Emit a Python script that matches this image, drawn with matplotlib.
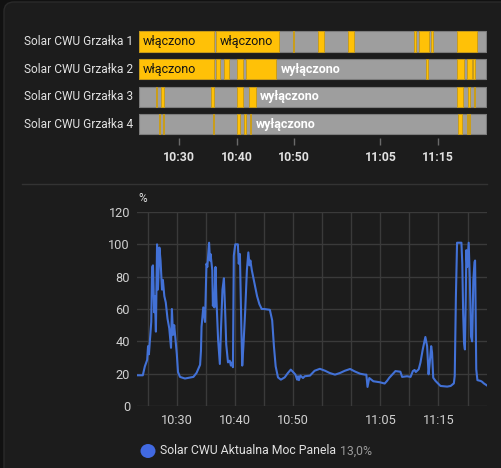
import matplotlib
matplotlib.use("Agg")
import matplotlib.pyplot as plt
from matplotlib.patches import FancyBboxPatch, Circle
from matplotlib.ticker import FixedLocator, FuncFormatter

plt.rcParams['font.family'] = ['Roboto', 'DejaVu Sans']

W, H = 502, 468

# time in minutes after 10:00
t_start = 23.05
t_end = 83.34

row_names = ["Solar CWU Grzałka 1", "Solar CWU Grzałka 2",
             "Solar CWU Grzałka 3", "Solar CWU Grzałka 4"]

# "włączono" (on) intervals per row, (start, end) in minutes after 10:00
on_1 = [(23.05, 36.13), (36.4, 47.37), (49.8, 50.0), (54.15, 55.25),
        (59.3, 60.45), (70.9, 71.2), (71.75, 73.5), (73.8, 74.2),
        (78.25, 81.7)]
on_2 = [(23.05, 36.13), (36.4, 37.2), (37.9, 38.7), (40.0, 41.2),
        (41.65, 46.9), (72.9, 73.2), (78.25, 79.55), (80.0, 80.95),
        (81.1, 81.5)]
on_3 = [(26.0, 26.2), (26.9, 27.45), (35.55, 36.1), (40.0, 41.2),
        (42.2, 43.4), (78.25, 79.4), (80.15, 80.55), (81.25, 81.5)]
on_4 = [(26.6, 26.75), (27.3, 27.45), (35.85, 36.1), (40.0, 40.6),
        (41.3, 41.6), (42.35, 42.55), (78.4, 79.1), (80.0, 80.15),
        (80.4, 80.55)]
on_rows = [on_1, on_2, on_3, on_4]

# state labels: (row, segment start, text, is_on)
state_labels = [
    (0, on_1[0][0], "włączono", True),
    (0, on_1[1][0], "włączono", True),
    (1, on_2[0][0], "włączono", True),
    (1, on_2[4][1], "wyłączono", False),
    (2, on_3[4][1], "wyłączono", False),
    (3, on_4[5][1], "wyłączono", False),
]

# Solar CWU Aktualna Moc Panela, %
pv_t = [23.2, 24.15, 24.5, 24.9, 25.05, 25.2, 25.6, 25.75, 25.9, 26.1, 26.2, 26.3,
        26.4, 26.6, 26.75, 27.0, 27.2, 27.45, 27.6, 27.85, 28.1, 28.4, 28.7,
        29.0, 29.15, 29.35, 29.55, 29.7, 30.0, 30.2, 30.55, 31.4, 32.85, 33.4,
        34.0, 34.15, 34.25, 34.55, 34.85, 35.1, 35.25, 35.55, 35.7, 35.8, 36.1,
        36.2, 36.35, 36.45, 36.65, 36.8, 37.1, 37.4, 37.6, 37.85, 38.1, 38.3,
        38.5, 38.8, 39.1, 39.3, 39.5, 39.65, 39.8, 40.05, 40.5, 40.65, 40.85,
        41.1, 41.25, 41.45, 41.6, 41.75, 42.05, 42.3, 42.5, 42.65, 42.9, 43.35,
        43.8, 44.2, 44.6, 45.0, 46.0, 46.4, 46.7, 47.0, 47.4, 47.9, 48.55,
        49.1, 49.6, 50.0, 50.4, 50.7, 50.85, 51.0, 51.25, 51.7, 52.0, 52.9,
        53.7, 54.6, 55.5, 56.3, 57.2, 58.05, 58.9, 59.8, 60.6, 61.5, 62.35,
        62.6, 62.8, 63.1, 63.8, 64.9, 65.75, 66.15, 66.55, 67.1, 67.6, 68.45,
        68.75, 69.6, 70.2, 70.6, 70.9, 71.1, 71.6, 71.9, 72.3, 72.75, 73.05,
        73.3, 73.5, 73.75, 73.9, 74.1, 74.5, 74.95, 75.35, 76.5, 77.1, 77.65,
        77.8, 78.0, 78.2, 78.95, 79.1, 79.25, 79.4, 79.55, 79.7, 79.8, 79.95,
        80.2, 80.4, 80.6, 80.8, 81.0, 81.2, 81.3, 81.5, 81.7, 82.25, 82.5,
        82.8, 83.3]
pv_v = [19, 19, 24.5, 28.5, 37, 32, 52, 86, 87, 58, 68, 58,
        46, 100, 72, 98, 90, 72, 78, 68, 64, 54, 48,
        36, 60, 44, 50, 44, 32, 21, 18, 17, 18, 20.5,
        25.5, 34, 49, 61, 52, 88, 86, 101, 90, 94, 84,
        62, 67, 61, 86, 67, 41, 26, 48, 72, 79, 60,
        38, 27, 28, 25, 27, 24, 93, 100, 100, 88, 94,
        48, 25, 37, 48, 58, 84, 95, 87, 90, 84, 76,
        68, 63, 60, 60, 59.5, 53, 37, 24.5, 17.7, 16.3, 17.7,
        20.4, 22.5, 21, 19.4, 16.3, 18.4, 16, 18.8, 17.3, 18.4, 18.8,
        21.8, 23, 21.8, 20.4, 19.4, 20.4, 21.8, 22.9, 21.4, 20, 19.4,
        19.4, 11.8, 17.3, 15.3, 14.7, 13.9, 15.5, 17.5, 19.6, 21.6, 21.2,
        18, 18.4, 18, 21.6, 22.3, 21, 22.7, 26.8, 35, 42.7, 37,
        19.6, 26.8, 37, 33, 17.5, 15.5, 13.9, 12.4, 12, 12.4, 14,
        18.6, 67.7, 101, 101, 88, 57.5, 39, 35, 67.7, 96.4, 86,
        101, 78, 43, 40, 78, 89, 90, 22.7, 16, 15.5, 15,
        14, 12.8]

x_ticks = [25, 30, 35, 40, 45, 50, 55, 60, 65, 70, 75, 80]
x_labels = {30: "10:30", 40: "10:40", 50: "10:50", 65: "11:05", 75: "11:15"}
y_ticks = [0, 20, 40, 60, 80, 100, 120]

ON = "#ffc107"
OFF = "#9e9e9e"
BG = "#1c1c1c"
TXT = "#e1e1e1"


def box(x0, y0, x1, y1):
    return [x0 / W, 1 - y1 / H, (x1 - x0) / W, (y1 - y0) / H]


fig = plt.figure(figsize=(W / 100, H / 100), dpi=100, facecolor="#111111")

card = FancyBboxPatch((4 / W, -0.1), 1.1, 1 - 2 / H + 0.1,
                      boxstyle="round,pad=0,rounding_size=0.02",
                      transform=fig.transFigure, facecolor=BG,
                      edgecolor="#2a2a2a", linewidth=1, zorder=-5)
fig.patches.append(card)

# ---- timeline ----
ax1 = fig.add_axes(box(139, 27.7, 486, 138.1))
ax1.set_facecolor("none")
bar_h = 0.735
for i, segs in enumerate(on_rows):
    y0 = i + 0.5 - bar_h / 2
    ax1.broken_barh([(t_start, t_end - t_start)], (y0, bar_h),
                    facecolors=OFF, edgecolor="#7c7c7c", linewidth=0.8)
    ax1.broken_barh([(a, b - a) for a, b in segs], (y0, bar_h),
                    facecolors=ON, edgecolor="#c99a12", linewidth=0.6)
    fig.text(133 / W, 1 - (41.5 + 27.6 * i) / H, row_names[i], ha="right",
             va="center", color=TXT, fontsize=8.6)

for row, x0, label, is_on in state_labels:
    ax1.annotate(label, (x0, row + 0.5), xytext=(3, 0),
                 textcoords="offset points", va="center", ha="left",
                 fontsize=9, color="#141414" if is_on else "#ffffff",
                 fontweight="normal" if is_on else "bold")

ax1.set_xlim(t_start, t_end)
ax1.set_ylim(4, 0)
ax1.set_yticks([])
for s in ax1.spines.values():
    s.set_visible(False)
ax1.xaxis.set_major_locator(FixedLocator(sorted(x_labels)))
ax1.xaxis.set_major_formatter(FuncFormatter(lambda v, p: x_labels.get(int(round(v)), "")))
ax1.tick_params(axis="x", colors="#6a6a6a", labelcolor=TXT, length=5,
                width=1, labelsize=8.8, pad=4)
for lab in ax1.get_xticklabels():
    lab.set_fontweight("bold")

# separator
fig.add_artist(plt.Line2D([22 / W, 487 / W], [1 - 183.5 / H] * 2,
                          transform=fig.transFigure, color="#333333", lw=1))

# ---- line chart ----
ax2 = fig.add_axes(box(137, 212, 487, 406))
ax2.set_facecolor("none")
ax2.plot(pv_t, pv_v, color="#4271d6", lw=1.5)
ax2.set_xlim(23.15, 83.35)
ax2.set_ylim(0, 120)
ax2.set_yticks(y_ticks)
ax2.xaxis.set_major_locator(FixedLocator(x_ticks))
ax2.xaxis.set_major_formatter(FuncFormatter(lambda v, p: x_labels.get(int(round(v)), "")))
ax2.grid(True, color="#3a3a3a", lw=1)
ax2.set_axisbelow(True)
for s in ax2.spines.values():
    s.set_visible(False)
ax2.tick_params(length=0, colors=TXT, labelsize=9.2)
ax2.tick_params(axis="x", pad=6)
ax2.tick_params(axis="y", pad=5)
for lab in ax2.get_xticklabels() + ax2.get_yticklabels():
    lab.set_color("#d0d0d0")
fig.text(138 / W, 1 - 199 / H, "%", color=TXT, fontsize=8.5, ha="left", va="center")

# legend
fig.patches.append(Circle((148 / W, 1 - 451 / H), 7.5 / W, transform=fig.transFigure,
                          facecolor="#4169e1", edgecolor="none"))
name = fig.text(160 / W, 1 - 451 / H, "Solar CWU Aktualna Moc Panela", color=TXT,
                fontsize=8.8, ha="left", va="center")
fig.canvas.draw()
x_end = name.get_window_extent().x1
fig.text((x_end + 4) / W, 1 - 451 / H, "13,0%", color="#9a9a9a", fontsize=8.8,
         ha="left", va="center")

fig.savefig("out.png", dpi=100, facecolor=fig.get_facecolor())
